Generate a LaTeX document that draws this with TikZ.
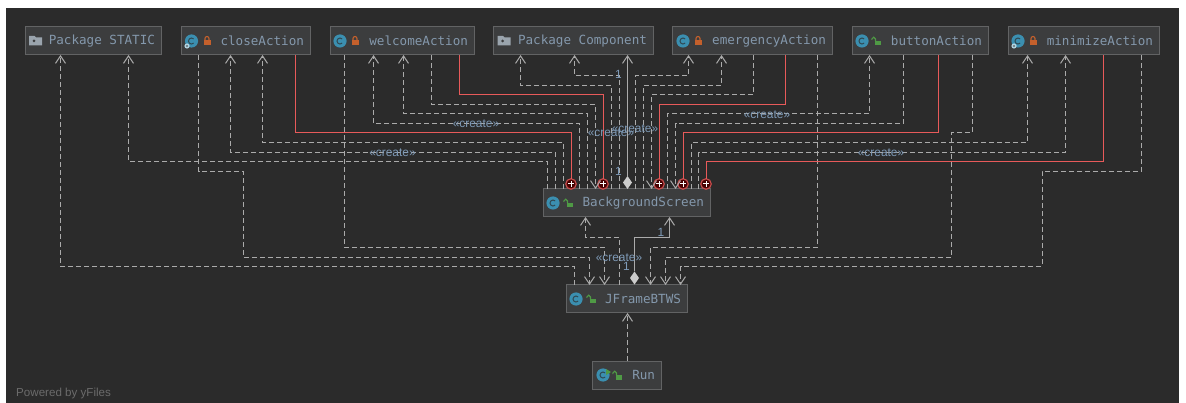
\documentclass[tikz,border=0pt]{standalone}
\usepackage{fontspec}
\setmainfont{Liberation Sans}
\setmonofont{DejaVu Sans Mono}
\usetikzlibrary{arrows.meta,shapes.geometric}
\definecolor{canvas}{HTML}{2B2B2B}
\definecolor{boxfill}{HTML}{3C3D3E}
\definecolor{boxline}{HTML}{626364}
\definecolor{txt}{HTML}{8498AC}
\definecolor{lbl}{HTML}{7F9BB8}
\definecolor{wire}{HTML}{ABABAB}
\definecolor{redwire}{HTML}{E85A5A}
\definecolor{teal}{HTML}{3B8FB0}
\definecolor{lockor}{HTML}{C4602C}
\definecolor{lockgr}{HTML}{4F9A45}
\definecolor{folder}{HTML}{9AA4AD}
\tikzset{
  x=1pt,y=-1pt,
  wd/.style={text width=\the\dimexpr#1pt-12pt\relax},
  box/.style={draw=boxline,fill=boxfill,line width=1pt,inner xsep=6pt,inner ysep=0pt,outer sep=0pt,
    minimum height=28pt,align=right,text=txt,font=\ttfamily\fontsize{12.6}{14}\selectfont},
  snap/.style={xshift=0.5pt,yshift=-0.5pt},
  dep/.style={snap,draw=wire,line width=1pt,dash pattern=on 5pt off 3pt,-{Straight Barb[length=7.5pt,width=10pt]}},
  own/.style={snap,draw=wire,line width=1pt,-{Straight Barb[length=7.5pt,width=10pt]}},
  inner/.style={snap,draw=redwire,line width=1.2pt},
  plus/.style={circle,draw=redwire!85!black,fill=black!72!red,line width=1.2pt,minimum size=10.5pt,inner sep=0pt,outer sep=0pt,
    path picture={\draw[white,line width=1pt] (path picture bounding box.center) +(-3.2pt,0pt) -- +(3.2pt,0pt)
      (path picture bounding box.center) +(0pt,-3.2pt) -- +(0pt,3.2pt);}},
  comp/.style={diamond,fill=white!80!black,minimum width=9pt,minimum height=13pt,inner sep=0pt,outer sep=0pt},
  clab/.style={text=lbl,inner sep=0pt,font=\fontsize{11.9}{14}\selectfont},
  foot/.style={text=white!30!canvas,inner sep=0pt,font=\fontsize{11.6}{13}\selectfont}
}
% icons
\newcommand\iconC[2]{\fill[teal] (#1,#2) circle[radius=6.6pt];
  \draw[canvas!70!teal,line width=1pt] (#1+2.1,#2-2.1) arc[start angle=45,end angle=315,radius=3pt];}
\newcommand\iconGear[2]{\fill[white!60!teal] (#1,#2) circle[radius=2.6pt];\fill[boxfill] (#1,#2) circle[radius=0.9pt];}
\newcommand\iconLock[2]{\fill[lockor] (#1-3.5,#2-1) rectangle (#1+3.5,#2+4);
  \draw[lockor,line width=1.1pt] (#1-2,#2-1) -- (#1-2,#2-2.5) arc[start angle=180,end angle=0,radius=2pt] -- (#1+2,#2-1);}
\newcommand\iconOpen[2]{\fill[lockgr] (#1-1,#2) rectangle (#1+4.5,#2+4.5);
  \draw[lockgr,line width=1.1pt] (#1-0.5,#2) -- (#1-0.5,#2-2) arc[start angle=0,end angle=180,radius=1.8pt] -- (#1-4.1,#2-1);}
\newcommand\iconFolder[2]{\fill[folder] (#1-6.5,#2-5) -- (#1-1,#2-5) -- (#1+0.5,#2-3.5) -- (#1+6.5,#2-3.5) -- (#1+6.5,#2+4.5) -- (#1-6.5,#2+4.5) -- cycle;
  \fill[boxfill] (#1-1.5,#2) circle[radius=1.5pt];}
% connector: from x #2 on the top of node #1, up to level #3, across to x #5, up to the bottom of node #4
\newcommand\upwire[6]{\draw[#1] (#2,0 |- #6.north) -- (#2,#3) -- (#5,#3) -- (#5,0 |- #4.south);}
\newcommand\downwire[6]{\draw[#1] (#2,0 |- #4.south) -- (#2,#3) -- (#5,#3) -- (#5,0 |- #6.north);}
\begin{document}
\begin{tikzpicture}
\useasboundingbox (0,0) rectangle (1186,403);
\fill[white] (0,0) rectangle (1186,403);
\fill[canvas] (6,8) rectangle (1179,403);
% class boxes
\node[box,wd=136] (st) at (93,41) {\spaceskip=0pt Package STATIC};
\node[box,wd=129] (ca) at (245.5,41) {closeAction};
\node[box,wd=144] (wa) at (402,41) {welcomeAction};
\node[box,wd=160] (pc) at (573,41) {\spaceskip=0pt Package Component};
\node[box,wd=160] (ea) at (752,41) {emergencyAction};
\node[box,wd=136] (ba) at (920,41) {buttonAction};
\node[box,wd=151] (ma) at (1083.5,41) {minimizeAction};
\node[box,wd=167] (bg) at (626.5,203) {BackgroundScreen};
\node[box,wd=121] (jf) at (626.5,299) {JFrameBTWS};
\node[box,wd=69] (rn) at (626.5,375) {Run};
% icons
\iconFolder{35.5}{41}
\iconC{191.5}{41}\iconGear{187}{46}\iconLock{207}{41}
\iconC{340}{41}\iconLock{355}{41}
\iconFolder{504}{41}
\iconC{683}{41}\iconLock{698}{41}
\iconC{862}{41}\iconOpen{876}{41}
\iconC{1018}{41}\iconGear{1014}{46}\iconLock{1033}{41}
\iconC{553}{203}\iconOpen{568}{203}
\iconC{576}{299}\iconOpen{591}{299}
\iconC{603}{375}\iconOpen{617}{375}
\fill[lockgr] (606,369) -- (611,372) -- (606,375) -- cycle;
% composition and inner-class end points
\node[plus] (p1) at (571,184) {};
\node[plus] (p2) at (603,184) {};
\node[plus] (p3) at (659,184) {};
\node[plus] (p4) at (683,184) {};
\node[plus] (p5) at (706,184) {};
\node[comp] (d1) at (627.5,182.5) {};
\node[comp] (d2) at (634.5,278) {};
% BackgroundScreen -> upper row
\upwire{dep}{547}{161}{st}{128}{bg}
\upwire{dep}{555}{152}{ca}{230}{bg}
\upwire{dep}{563}{142}{ca}{262}{bg}
\upwire{dep}{579}{123}{wa}{373}{bg}
\upwire{dep}{587}{113}{wa}{403}{bg}
\upwire{dep}{611}{85}{pc}{520}{bg}
\upwire{dep}{619}{75}{pc}{574}{bg}
\upwire{dep}{635}{75}{ea}{688}{bg}
\upwire{dep}{643}{85}{ea}{721}{bg}
\upwire{dep}{667}{113}{ba}{869}{bg}
\upwire{dep}{691}{142}{ma}{1027}{bg}
\upwire{dep}{698}{152}{ma}{1065}{bg}
% upper row -> BackgroundScreen
\downwire{dep}{431}{104}{wa}{595}{bg}
\downwire{dep}{753}{94}{ea}{651}{bg}
\downwire{dep}{903}{123}{ba}{675}{bg}
% composition to Package Component
\draw[own] (627,0 |- d1.north) -- (627,0 |- pc.south);
% upper row -> JFrameBTWS
\draw[dep] (198,0 |- ca.south) -- (198,171) -- (243,171) -- (243,257) -- (589,257) -- (589,0 |- jf.north);
\draw[dep] (344,0 |- wa.south) -- (344,247) -- (604,247) -- (604,0 |- jf.north);
\draw[dep] (817,0 |- ea.south) -- (817,247) -- (650,247) -- (650,0 |- jf.north);
\draw[dep] (972,0 |- ba.south) -- (972,132) -- (951,132) -- (951,257) -- (665,257) -- (665,0 |- jf.north);
\draw[dep] (1141,0 |- ma.south) -- (1141,171) -- (1041.5,171) -- (1041.5,266) -- (680,266) -- (680,0 |- jf.north);
% JFrameBTWS -> others
\draw[dep] (574,0 |- jf.north) -- (574,266) -- (60,266) -- (60,0 |- st.south);
\draw[dep] (619,0 |- jf.north) -- (619,237) -- (585,237) -- (585,0 |- bg.south);
\draw[own] (634,0 |- d2.north) -- (634,237) -- (669,237) -- (669,0 |- bg.south);
\draw[dep] (627,0 |- rn.north) -- (627,0 |- jf.south);
% inner classes
\draw[inner] (571,0 |- p1.north) -- (571,132) -- (295,132) -- (295,0 |- ca.south);
\draw[inner] (603,0 |- p2.north) -- (603,94) -- (459,94) -- (459,0 |- wa.south);
\draw[inner] (659,0 |- p3.north) -- (659,104) -- (785,104) -- (785,0 |- ea.south);
\draw[inner] (683,0 |- p4.north) -- (683,132) -- (938,132) -- (938,0 |- ba.south);
\draw[inner] (706,0 |- p5.north) -- (706,161) -- (1103,161) -- (1103,0 |- ma.south);
% labels
\node[clab] (l1) at (476,124) {«create»};
\node[clab] (l2) at (392.5,152.5) {«create»};
\node[clab] (l3) at (611,133) {«create»};
\node[clab] (l4) at (635,128.5) {«create»};
\node[clab] (l5) at (767,114.5) {«create»};
\node[clab] (l6) at (881,152.5) {«create»};
\node[clab] (l7) at (619,257.5) {«create»};
\node[clab] (o1) at (618.5,74.5) {1};
\node[clab] (o2) at (618.5,171) {1};
\node[clab] (o3) at (661,232) {1};
\node[clab] (o4) at (626.5,266) {1};
\node[foot,anchor=west] (pw) at (16,393.5) {Powered by yFiles};
\end{tikzpicture}
\end{document}
